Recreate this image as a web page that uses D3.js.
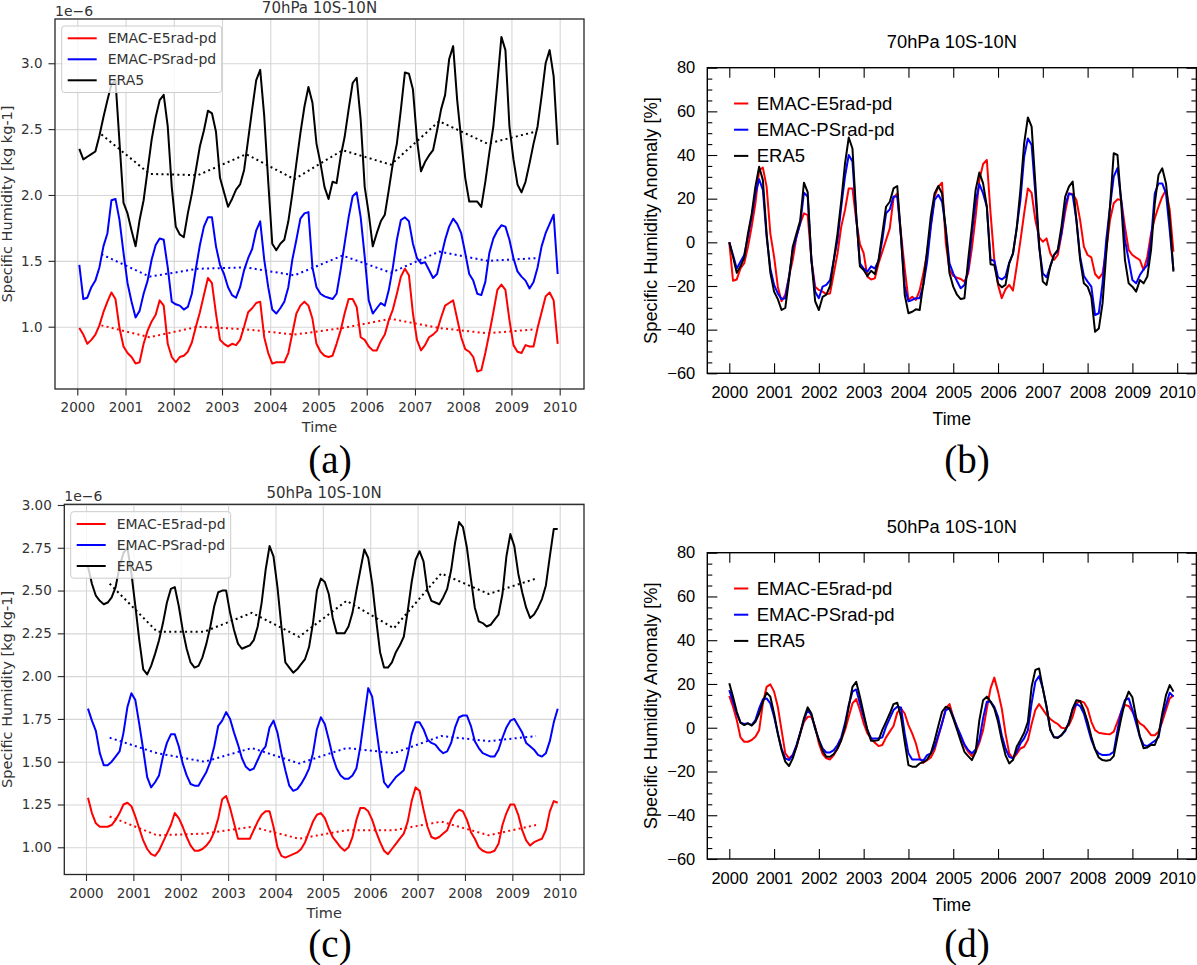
<!DOCTYPE html>
<html>
<head>
<meta charset="utf-8">
<script src="https://cdn.jsdelivr.net/npm/d3@7"></script>
<style>
  body { margin: 0; background: #fff; }
  svg { display: block; }
</style>
</head>
<body>
<svg id="fig" width="1197" height="965"></svg>
<script>
// ---- data ----
const years = [2000, 2001, 2002, 2003, 2004, 2005, 2006, 2007, 2008, 2009, 2010];
const seriesNames = ['EMAC-E5rad-pd', 'EMAC-PSrad-pd', 'ERA5'];

// (a) 70hPa specific humidity, 1e-6 kg/kg, monthly Jan 2000 .. Dec 2009
const q70E5 = [
  0.99, 0.94, 0.87, 0.90, 0.94, 1.01, 1.11, 1.19, 1.26, 1.21, 0.99, 0.85,
  0.80, 0.77, 0.72, 0.73, 0.87, 0.97, 1.04, 1.09, 1.20, 1.16, 0.87, 0.77,
  0.73, 0.77, 0.78, 0.81, 0.88, 1.00, 1.11, 1.24, 1.37, 1.33, 1.10, 0.90,
  0.87, 0.85, 0.87, 0.86, 0.90, 1.00, 1.11, 1.14, 1.18, 1.19, 0.92, 0.80,
  0.72, 0.73, 0.73, 0.73, 0.80, 0.95, 1.10, 1.16, 1.19, 1.16, 1.06, 0.87,
  0.81, 0.78, 0.77, 0.78, 0.87, 0.97, 1.10, 1.21, 1.21, 1.15, 0.92, 0.90,
  0.85, 0.82, 0.82, 0.89, 0.94, 1.05, 1.13, 1.25, 1.38, 1.44, 1.39, 1.10,
  0.90, 0.82, 0.86, 0.92, 0.94, 0.97, 1.07, 1.16, 1.18, 1.20, 1.06, 0.92,
  0.83, 0.81, 0.77, 0.66, 0.67, 0.80, 0.95, 1.11, 1.28, 1.32, 1.28, 1.05,
  0.86, 0.81, 0.80, 0.86, 0.85, 0.85, 0.99, 1.11, 1.23, 1.26, 1.20, 0.87
];
const q70PS = [
  1.47, 1.21, 1.22, 1.30, 1.35, 1.45, 1.61, 1.71, 1.96, 1.97, 1.81, 1.56,
  1.33, 1.19, 1.07, 1.12, 1.25, 1.35, 1.51, 1.62, 1.67, 1.66, 1.45, 1.19,
  1.17, 1.16, 1.13, 1.15, 1.25, 1.44, 1.62, 1.76, 1.83, 1.83, 1.61, 1.47,
  1.40, 1.30, 1.24, 1.22, 1.30, 1.43, 1.52, 1.59, 1.73, 1.80, 1.51, 1.30,
  1.13, 1.10, 1.14, 1.19, 1.30, 1.51, 1.66, 1.82, 1.86, 1.87, 1.45, 1.30,
  1.25, 1.23, 1.22, 1.21, 1.25, 1.43, 1.63, 1.83, 1.99, 2.02, 1.83, 1.53,
  1.20, 1.10, 1.14, 1.18, 1.16, 1.28, 1.45, 1.66, 1.81, 1.83, 1.80, 1.63,
  1.52, 1.48, 1.49, 1.43, 1.37, 1.40, 1.53, 1.66, 1.76, 1.82, 1.78, 1.71,
  1.56, 1.40, 1.35, 1.25, 1.24, 1.34, 1.56, 1.67, 1.73, 1.77, 1.76, 1.66,
  1.52, 1.42, 1.38, 1.35, 1.29, 1.34, 1.45, 1.61, 1.71, 1.78, 1.85, 1.40
];
const q70ERA = [
  2.35, 2.27, 2.29, 2.31, 2.33, 2.45, 2.59, 2.72, 2.84, 2.87, 2.40, 1.94,
  1.86, 1.73, 1.61, 1.81, 1.96, 2.19, 2.42, 2.59, 2.72, 2.76, 2.52, 2.06,
  1.76, 1.70, 1.68, 1.86, 2.01, 2.19, 2.37, 2.49, 2.64, 2.62, 2.48, 2.13,
  2.02, 1.91, 1.97, 2.04, 2.08, 2.19, 2.42, 2.65, 2.87, 2.95, 2.60, 2.10,
  1.63, 1.58, 1.63, 1.66, 1.80, 2.01, 2.24, 2.47, 2.67, 2.82, 2.70, 2.39,
  2.24, 2.06, 1.97, 2.10, 2.09, 2.29, 2.44, 2.65, 2.85, 2.89, 2.57, 2.06,
  1.86, 1.61, 1.71, 1.80, 1.85, 2.04, 2.24, 2.39, 2.65, 2.93, 2.92, 2.80,
  2.42, 2.18, 2.25, 2.30, 2.34, 2.49, 2.65, 2.76, 3.03, 3.13, 2.72, 2.42,
  2.13, 1.95, 1.95, 1.95, 1.91, 2.10, 2.32, 2.52, 2.85, 3.20, 3.10, 2.52,
  2.27, 2.08, 2.02, 2.10, 2.24, 2.39, 2.52, 2.75, 3.00, 3.10, 2.90, 2.38
];
// yearly means (dotted), plotted mid-year 2000..2009
const q70E5Annual = [1.01, 0.92, 1.00, 0.98, 0.94, 0.99, 1.06, 0.99, 0.95, 0.98];
const q70PSAnnual = [1.55, 1.38, 1.44, 1.45, 1.39, 1.54, 1.41, 1.57, 1.50, 1.52];
const q70ERAAnnual = [2.46, 2.16, 2.15, 2.31, 2.12, 2.34, 2.23, 2.56, 2.39, 2.48];

// (c) 50hPa specific humidity, 1e-6 kg/kg
const q50E5 = [
  1.29, 1.20, 1.14, 1.12, 1.12, 1.12, 1.13, 1.16, 1.20, 1.25, 1.26, 1.24,
  1.18, 1.11, 1.04, 0.99, 0.96, 0.95, 0.98, 1.03, 1.08, 1.13, 1.20, 1.17,
  1.12, 1.06, 1.01, 0.98, 0.98, 0.99, 1.01, 1.04, 1.09, 1.17, 1.28, 1.30,
  1.23, 1.14, 1.05, 1.05, 1.05, 1.05, 1.10, 1.15, 1.19, 1.21, 1.21, 1.12,
  1.00, 0.95, 0.94, 0.95, 0.96, 0.97, 0.99, 1.03, 1.09, 1.15, 1.19, 1.20,
  1.17, 1.11, 1.06, 1.03, 1.00, 0.98, 1.00, 1.06, 1.16, 1.23, 1.23, 1.21,
  1.16, 1.09, 1.03, 0.98, 0.96, 0.99, 1.02, 1.05, 1.08, 1.15, 1.27, 1.35,
  1.33, 1.22, 1.12, 1.06, 1.05, 1.06, 1.08, 1.10, 1.16, 1.20, 1.22, 1.21,
  1.16, 1.09, 1.05, 1.00, 0.98, 0.97, 0.97, 0.98, 1.02, 1.13, 1.20, 1.25,
  1.25, 1.19, 1.10, 1.04, 1.01, 1.03, 1.04, 1.05, 1.10, 1.21, 1.27, 1.26
];
const q50PS = [
  1.81, 1.74, 1.68, 1.55, 1.48, 1.48, 1.50, 1.53, 1.56, 1.67, 1.82, 1.90,
  1.86, 1.72, 1.57, 1.41, 1.35, 1.38, 1.42, 1.53, 1.61, 1.66, 1.66, 1.59,
  1.49, 1.42, 1.37, 1.36, 1.36, 1.40, 1.44, 1.50, 1.59, 1.71, 1.74, 1.79,
  1.75, 1.67, 1.60, 1.52, 1.47, 1.45, 1.46, 1.51, 1.56, 1.59, 1.70, 1.74,
  1.67, 1.55, 1.45, 1.36, 1.33, 1.34, 1.37, 1.41, 1.46, 1.55, 1.69, 1.76,
  1.72, 1.63, 1.53, 1.46, 1.42, 1.40, 1.40, 1.42, 1.46, 1.59, 1.76, 1.93,
  1.88, 1.70, 1.53, 1.38, 1.35, 1.38, 1.41, 1.43, 1.45, 1.54, 1.66, 1.73,
  1.73, 1.69, 1.63, 1.61, 1.60, 1.57, 1.55, 1.56, 1.61, 1.70, 1.76, 1.77,
  1.77, 1.71, 1.62, 1.58, 1.55, 1.54, 1.53, 1.53, 1.57, 1.64, 1.70, 1.74,
  1.75, 1.71, 1.67, 1.61, 1.59, 1.57, 1.54, 1.53, 1.55, 1.62, 1.73, 1.81
];
const q50ERA = [
  2.64, 2.54, 2.47, 2.44, 2.42, 2.43, 2.46, 2.52, 2.64, 2.72, 2.75, 2.60,
  2.41, 2.21, 2.04, 2.01, 2.06, 2.13, 2.21, 2.31, 2.43, 2.51, 2.52, 2.41,
  2.27, 2.16, 2.08, 2.05, 2.06, 2.11, 2.19, 2.29, 2.41, 2.49, 2.50, 2.50,
  2.37, 2.27, 2.19, 2.16, 2.17, 2.18, 2.21, 2.29, 2.43, 2.62, 2.76, 2.70,
  2.52, 2.29, 2.08, 2.05, 2.02, 2.04, 2.07, 2.10, 2.17, 2.31, 2.50, 2.57,
  2.55, 2.48, 2.34, 2.25, 2.25, 2.25, 2.29, 2.37, 2.50, 2.62, 2.74, 2.69,
  2.54, 2.33, 2.14, 2.05, 2.05, 2.08, 2.14, 2.18, 2.23, 2.38, 2.55, 2.68,
  2.73, 2.67, 2.50, 2.44, 2.43, 2.42, 2.46, 2.51, 2.62, 2.78, 2.90, 2.87,
  2.75, 2.57, 2.40, 2.32, 2.31, 2.29, 2.30, 2.33, 2.36, 2.48, 2.70, 2.83,
  2.76, 2.60, 2.49, 2.40, 2.34, 2.36, 2.40, 2.45, 2.53, 2.70, 2.86, 2.86
];
const q50E5Annual = [1.18, 1.07, 1.08, 1.12, 1.05, 1.10, 1.10, 1.15, 1.07, 1.13];
const q50PSAnnual = [1.64, 1.55, 1.50, 1.58, 1.49, 1.58, 1.55, 1.65, 1.62, 1.65];
const q50ERAAnnual = [2.54, 2.26, 2.26, 2.37, 2.23, 2.44, 2.28, 2.60, 2.48, 2.57];

// (b) 70hPa anomaly, %
const anom70E5 = [
  0, -17.6, -17, -12, -9.6, -2, 7.2, 17.9, 33, 34.2, 25.5, 4,
  -6.6, -20.3, -27, -24, -15.7, -8, 2.6, 8.7, 13.3, 12.5, -8, -20.3,
  -21.8, -22.6, -23.7, -23.4, -14.2, -5, 7.2, 14.8, 24.7, 24.7, 10.2, -0.8,
  -5, -15.7, -17, -16.5, -9.6, -4.3, 1.1, 6.4, 20.2, 22.4, 4.1, -12,
  -26.4, -24.9, -26.4, -22, -14.2, -5, 8, 20.9, 25.5, 27.3, -0.3, -12.7,
  -15.4, -16.2, -16.8, -18, -14.2, -2.7, 11.8, 28.6, 35.9, 37.7, 13.3, -8,
  -19.5, -25.6, -21.5, -19.5, -22.1, -11, 0.8, 13.3, 24.7, 22.7, 10.2, 2.3,
  0.3, 1.8, -5, -8, -5.8, 3.4, 14, 22.4, 22.1, 19.4, 10.2, -2,
  -5.8, -6.9, -14.5, -16.5, -14.2, -3.5, 10.2, 17.9, 19.7, 19.4, 7.2, -3.5,
  -5.8, -7, -8.1, -12.7, -6.6, 4.1, 11, 16.3, 20.9, 24, 14.8, -4.3
];
const anom70PS = [
  0, -5.8, -12, -8.9, -5.8, 2.6, 11.8, 22.4, 28.9, 24, 2.6, -12,
  -19.5, -23.4, -26, -25.6, -15.7, -3.5, 2.6, 8.7, 22.7, 21, -8, -22.6,
  -25.6, -20.3, -19.5, -17.3, -8, 1.1, 16.3, 30.1, 40, 37, 11.8, -9.6,
  -12, -13.4, -11, -12, -8.4, 1, 13.3, 15.1, 21, 21, 2.6, -20.3,
  -27, -26.4, -25.6, -25.6, -19.5, -8.9, 7.2, 19.4, 21.8, 18.6, 6.4, -9.6,
  -14.2, -17.7, -21, -19.5, -12.7, 4.1, 18.6, 26.7, 22.4, 16.3, -8, -8.4,
  -16, -17, -15.7, -9.3, -5.3, 6.4, 19.4, 39.2, 47.6, 44.6, 22.4, -2,
  -14.2, -16, -11, -5.8, -4, 4.1, 17, 22.4, 21.6, 10.2, -6.6, -15.4,
  -18, -20.3, -33.3, -32.5, -18.8, 1.1, 16.3, 30.1, 34, 19.4, 1.1, -8,
  -17.3, -18.8, -15, -12.4, -10.4, 1, 22.4, 27, 27, 22.4, 5.6, -12.7
];
const anom70ERA = [
  0, -6.6, -14, -11, -7, 4, 13, 25.5, 34.6, 28.5, 4, -14,
  -22.6, -26, -31, -30, -17, -2, 4, 10, 27.3, 23, -8, -27,
  -31, -25, -24, -20, -8, 4, 19, 36, 48, 43, 13, -11,
  -12.7, -15.4, -13, -14.5, -8, 4, 16.3, 18.6, 24.7, 25.8, 2.6, -24,
  -32.5, -31.8, -30.7, -31, -18.8, -3.5, 12, 22.4, 25.8, 22.4, 5.6, -14.2,
  -20.3, -24, -26, -25.6, -8, 7.2, 24, 32, 27, 16.3, -10, -10.4,
  -18.8, -20.6, -19.5, -9.6, -5, 6.4, 24, 45.3, 57.2, 53, 27, -0.8,
  -18, -19.5, -11, -5.8, -3.5, 7.2, 20.9, 25.5, 27.8, 10.2, -8, -18.8,
  -20.3, -25, -41, -39.5, -28, -5, 16.3, 40.8, 40, 17.9, -8, -18.8,
  -20.3, -22.6, -17.3, -18.8, -15.7, -3.5, 17.9, 30.9, 33.9, 27, 10.2, -13.4
];

// (d) 50hPa anomaly, %
const anom50E5 = [
  14.5, 9.6, 3.5, -4.4, -6.4, -6.4, -5.6, -4.1, -1.1, 11.1, 18.7, 19.8,
  16.5, 9.6, -1.1, -11.7, -14, -12.5, -8.7, -2.6, 2.7, 5, 5, 0.5,
  -7.2, -12, -14, -14.5, -12.5, -9.5, -5.6, -1.1, 5, 11.1, 13.1, 8.1,
  2, -2.6, -4.9, -6.9, -8.4, -7.9, -4.4, -1.8, 0.8, 6.9, 8.8, 6.5,
  1.2, -2.6, -7.2, -14, -16, -14.8, -13.6, -10.2, -4.1, 2, 8.8, 10.8,
  5, 0.2, -4.1, -8.2, -11, -13, -11, -6.9, -1.1, 8.8, 18, 22.9,
  16.5, 8.8, -2.6, -11.7, -14, -12, -9.5, -8.7, -5.6, 1.7, 8.1, 10.8,
  8.4, 5.8, 4, 2.7, 1.7, 0, -0.3, 1.2, 5, 11.1, 12.2, 11.6,
  8.8, 2.7, -1.1, -2.3, -2.6, -2.9, -3, -1.8, 2.7, 7.3, 10.4, 9.9,
  7.3, 4.3, 2, 0.9, -1.1, -3.4, -3.4, -1.8, 2.7, 8.1, 13.4, 14.9
];
const anom50PS = [
  17.2, 11.9, 6.5, 2.3, 1.7, 2, 1.2, 3.5, 8.8, 13, 13.4, 11.1,
  5, -2.6, -9.5, -14, -14.8, -12.5, -7.9, -2.3, 3.5, 8.1, 5.8, -0.3,
  -5.6, -9.5, -11.3, -11.3, -10.2, -7.9, -4.4, 2, 10.4, 16.5, 17.5, 11.1,
  5, -1, -4.9, -4.9, -4.9, -4.4, 0.5, 4.3, 8.1, 9.6, 9.3, -2.6,
  -11.7, -14.5, -14.5, -14.5, -15, -12.5, -11.7, -8.7, -3.4, 2, 8.1, 8.8,
  5, 0.5, -3.4, -7.6, -10.2, -11.7, -9.9, -5.6, 4.3, 11.9, 11.9, 9.6,
  5, -3.4, -9.5, -13.3, -14, -11, -7.2, -4.9, -1.1, 11.1, 21, 23.6,
  18, 9.6, -1.1, -4.4, -4.4, -3.4, -1.5, 2.7, 8.4, 10.8, 9.9, 6.5,
  0.5, -5.6, -9.8, -11.7, -12.5, -12.5, -12.2, -11, -1.1, 7.3, 12.6, 13.4,
  8.1, 2, -4.1, -7.9, -8.4, -7.2, -6, -4.4, 5, 10.4, 16, 14.2
];
const anom50ERA = [
  20.3, 14.2, 7.3, 2.3, 1.2, 2, 1, 2.7, 6.5, 11.9, 16, 14.2,
  6.5, -2.6, -10.2, -15.5, -17.5, -14, -8.7, -2.6, 4.3, 9.3, 6.5, -0.3,
  -5.6, -10.5, -13.3, -13.3, -12, -9.5, -5.6, 0.5, 9.6, 18.7, 21, 14.2,
  6.5, -1, -6, -6, -5.6, -1, 2.7, 6.5, 10.8, 11.4, 5, -6.4,
  -17.1, -17.8, -17.8, -16.3, -15.8, -14.5, -11.7, -6, 0.8, 7.3, 9.6, 8.8,
  4.3, -0.8, -6, -11, -13, -14.8, -11, 3.5, 12.6, 14.2, 11.9, 8.8,
  2.7, -5.6, -12.5, -16.3, -14.8, -8.7, -5.6, -2.3, 2.7, 18.7, 26.4, 27.1,
  18, 9.6, -0.8, -4.4, -4.7, -3.4, -1.1, 2, 8.8, 12.6, 12.2, 8.1,
  2.7, -4.1, -9.9, -13.6, -14.8, -15.1, -14.8, -13, -4.1, 4.3, 11.9, 16.5,
  13.9, 4.7, -4.1, -9.4, -9, -7.9, -7.9, -3.4, 6.5, 14.9, 19.5, 16.5
];

const q70Ticks = [1.0, 1.5, 2.0, 2.5, 3.0];
const q50Ticks = [1.00, 1.25, 1.50, 1.75, 2.00, 2.25, 2.50, 2.75, 3.00];
const anomTicks = [-60, -40, -20, 0, 20, 40, 60, 80];
const anomMinorTicks = [-55, -50, -45, -35, -30, -25, -15, -10, -5, 5, 10, 15,
                        25, 30, 35, 45, 50, 55, 65, 70, 75];

// ---- styling ----
const colors = ['#ff0000', '#0000ff', '#000000'];
const FONT_MPL = '"DejaVu Sans", sans-serif';
const FONT_NCL = '"Liberation Sans", Arial, Helvetica, sans-serif';
const FONT_TAG = '"Liberation Serif", "DejaVu Serif", serif';
const MPL_TEXT = '#333';

const svg = d3.select('#fig');

function mplPanel(p) {
  const g = svg.append('g');
  const w = p.x1 - p.x0, h = p.y1 - p.y0;
  const x = d3.scaleLinear().domain(p.xDomain).range([p.x0, p.x1]);
  const y = d3.scaleLinear().domain(p.yDomain).range([p.y1, p.y0]);

  // grid
  g.append('g').attr('transform', `translate(0,${p.y1})`)
      .call(d3.axisBottom(x).tickValues(years).tickSize(-h).tickSizeOuter(0).tickFormat(''))
      .call(a => a.select('.domain').remove())
      .selectAll('line').attr('stroke', '#d6d6d6').attr('stroke-width', 1.1);
  g.append('g').attr('transform', `translate(${p.x0},0)`)
      .call(d3.axisLeft(y).tickValues(p.yTicks).tickSize(-w).tickSizeOuter(0).tickFormat(''))
      .call(a => a.select('.domain').remove())
      .selectAll('line').attr('stroke', '#d6d6d6').attr('stroke-width', 1.1);

  const monthly = d3.line().x((d, i) => x(years[0] + (i + 0.5) / 12)).y(d => y(d));
  const yearly = d3.line().x((d, i) => x(years[i] + 0.5)).y(d => y(d));

  p.monthly.forEach((s, k) => {
    g.append('path').datum(s).attr('d', monthly)
        .attr('fill', 'none').attr('stroke', colors[k])
        .attr('stroke-width', 2).attr('stroke-linejoin', 'round');
  });
  p.annual.forEach((s, k) => {
    g.append('path').datum(s).attr('d', yearly)
        .attr('fill', 'none').attr('stroke', colors[k])
        .attr('stroke-width', 2).attr('stroke-dasharray', '2,3.3');
  });

  // spines
  g.append('rect').attr('x', p.x0).attr('y', p.y0).attr('width', w).attr('height', h)
      .attr('fill', 'none').attr('stroke', '#262626').attr('stroke-width', 1.3);

  const bx = g.append('g').attr('transform', `translate(0,${p.y1})`)
      .call(d3.axisBottom(x).tickValues(years).tickSize(6.5).tickSizeOuter(0)
          .tickPadding(7).tickFormat(d3.format('d')));
  const ly = g.append('g').attr('transform', `translate(${p.x0},0)`)
      .call(d3.axisLeft(y).tickValues(p.yTicks).tickSize(6.5).tickSizeOuter(0)
          .tickPadding(6).tickFormat(d3.format(p.yFmt)));
  [bx, ly].forEach(a => {
    a.select('.domain').remove();
    a.attr('font-family', FONT_MPL).attr('font-size', 13.5);
    a.selectAll('line').attr('stroke', '#262626').attr('stroke-width', 1.1);
    a.selectAll('text').attr('fill', MPL_TEXT);
  });

  const txt = (tx, ty, s, size, anchor) => g.append('text')
      .attr('x', tx).attr('y', ty).attr('font-family', FONT_MPL)
      .attr('font-size', size).attr('fill', MPL_TEXT)
      .attr('text-anchor', anchor || 'middle').text(s);

  txt((p.x0 + p.x1) / 2, p.y0 - 6.5, p.title, 15);
  txt(p.x0, p.y0 - 3.5, '1e\u22126', 14, 'start');
  txt((p.x0 + p.x1) / 2, p.y1 + 43, 'Time', 14.5);
  g.append('text')
      .attr('transform', `translate(12,${(p.y0 + p.y1) / 2}) rotate(-90)`)
      .attr('font-family', FONT_MPL).attr('font-size', 14.5).attr('fill', MPL_TEXT)
      .attr('text-anchor', 'middle').text('Specific Humidity [kg kg-1]');

  // legend
  const lg = g.append('g').attr('transform', `translate(${p.legend[0]},${p.legend[1]})`);
  lg.append('rect').attr('width', 160).attr('height', 66.5).attr('rx', 3)
      .attr('fill', '#fff').attr('fill-opacity', 0.8)
      .attr('stroke', '#cccccc').attr('stroke-width', 1);
  seriesNames.forEach((name, k) => {
    const ry = 12.3 + k * 21;
    lg.append('line').attr('x1', 6).attr('x2', 35).attr('y1', ry).attr('y2', ry)
        .attr('stroke', colors[k]).attr('stroke-width', 2);
    lg.append('text').attr('x', 46).attr('y', ry).attr('dy', '0.36em')
        .attr('font-family', FONT_MPL).attr('font-size', 14).attr('fill', MPL_TEXT)
        .text(name);
  });
}

function nclPanel(p) {
  const g = svg.append('g');
  const x = d3.scaleLinear().domain([1999.509, 2010.429]).range([p.x0, p.x1]);
  const y = d3.scaleLinear().domain([-60, 80]).range([p.y1, p.y0]);
  const w = p.x1 - p.x0, h = p.y1 - p.y0;

  const line = d3.line().x((d, i) => x(years[0] + i / 12)).y(d => y(d));
  p.series.forEach((s, k) => {
    g.append('path').datum(s).attr('d', line)
        .attr('fill', 'none').attr('stroke', colors[k])
        .attr('stroke-width', 2).attr('stroke-linejoin', 'round');
  });

  g.append('rect').attr('x', p.x0).attr('y', p.y0).attr('width', w).attr('height', h)
      .attr('fill', 'none').attr('stroke', '#000').attr('stroke-width', 1.4);

  const axes = [
    [`translate(${p.x0},0)`, d3.axisLeft(y).tickValues(anomTicks).tickSize(-10).tickPadding(12).tickFormat(d3.format('d'))],
    [`translate(${p.x0},0)`, d3.axisLeft(y).tickValues(anomMinorTicks).tickSize(-5).tickFormat('')],
    [`translate(${p.x1},0)`, d3.axisRight(y).tickValues(anomTicks).tickSize(-10).tickFormat('')],
    [`translate(${p.x1},0)`, d3.axisRight(y).tickValues(anomMinorTicks).tickSize(-5).tickFormat('')],
    [`translate(0,${p.y1})`, d3.axisBottom(x).tickValues(years).tickSize(-10).tickPadding(13).tickFormat(d3.format('d'))],
    [`translate(0,${p.y0})`, d3.axisTop(x).tickValues(years).tickSize(-10).tickFormat('')]
  ];
  axes.forEach(([tr, ax]) => {
    const a = g.append('g').attr('transform', tr).call(ax.tickSizeOuter(0));
    a.select('.domain').remove();
    a.attr('font-family', FONT_NCL).attr('font-size', 16.5);
    a.selectAll('line').attr('stroke', '#000').attr('stroke-width', 1.1);
    a.selectAll('text').attr('fill', '#000');
  });

  const cx = (p.x0 + p.x1) / 2;
  g.append('text').attr('x', cx).attr('y', p.y0 - 19.4).attr('text-anchor', 'middle')
      .attr('font-family', FONT_NCL).attr('font-size', 18.3).text(p.title);
  g.append('text').attr('x', cx).attr('y', p.y1 + 51.5).attr('text-anchor', 'middle')
      .attr('font-family', FONT_NCL).attr('font-size', 17.6).text('Time');
  g.append('text')
      .attr('transform', `translate(656.7,${(p.y0 + p.y1) / 2}) rotate(-90)`)
      .attr('text-anchor', 'middle').attr('font-family', FONT_NCL)
      .attr('font-size', 18.3).text('Specific Humidity Anomaly [%]');

  seriesNames.forEach((name, k) => {
    const by = p.y0 + 41.8 + k * 26.2;
    g.append('line').attr('x1', 734).attr('x2', 748.3).attr('y1', by - 6).attr('y2', by - 6)
        .attr('stroke', colors[k]).attr('stroke-width', 2);
    g.append('text').attr('x', 756.7).attr('y', by)
        .attr('font-family', FONT_NCL).attr('font-size', 18.5).text(name);
  });
}

mplPanel({
  x0: 55, x1: 584, y0: 19, y1: 389,
  xDomain: [1999.538, 2010.504], yDomain: [0.527, 3.336],
  yTicks: q70Ticks, yFmt: '.1f', title: '70hPa 10S-10N',
  monthly: [q70E5, q70PS, q70ERA], annual: [q70E5Annual, q70PSAnnual, q70ERAAnnual],
  legend: [61.7, 26]
});
mplPanel({
  x0: 64.3, x1: 584, y0: 504.3, y1: 874.5,
  xDomain: [1999.542, 2010.513], yDomain: [0.841, 3.004],
  yTicks: q50Ticks, yFmt: '.2f', title: '50hPa 10S-10N',
  monthly: [q50E5, q50PS, q50ERA], annual: [q50E5Annual, q50PSAnnual, q50ERAAnnual],
  legend: [70.7, 511.7]
});
nclPanel({ x0: 707.3, x1: 1196.4, y0: 67.7, y1: 373.3, title: '70hPa 10S-10N',
  series: [anom70E5, anom70PS, anom70ERA] });
nclPanel({ x0: 707.3, x1: 1196.4, y0: 552.7, y1: 859, title: '50hPa 10S-10N',
  series: [anom50E5, anom50PS, anom50ERA] });

// panel tags
[['(a)', 330, 472.5], ['(b)', 967, 472.5], ['(c)', 330, 956.5], ['(d)', 967, 956.5]]
  .forEach(([t, tx, ty]) => {
    svg.append('text').attr('x', tx).attr('y', ty).attr('text-anchor', 'middle')
        .attr('font-family', FONT_TAG).attr('font-size', 39).text(t);
  });
</script>
</body>
</html>
